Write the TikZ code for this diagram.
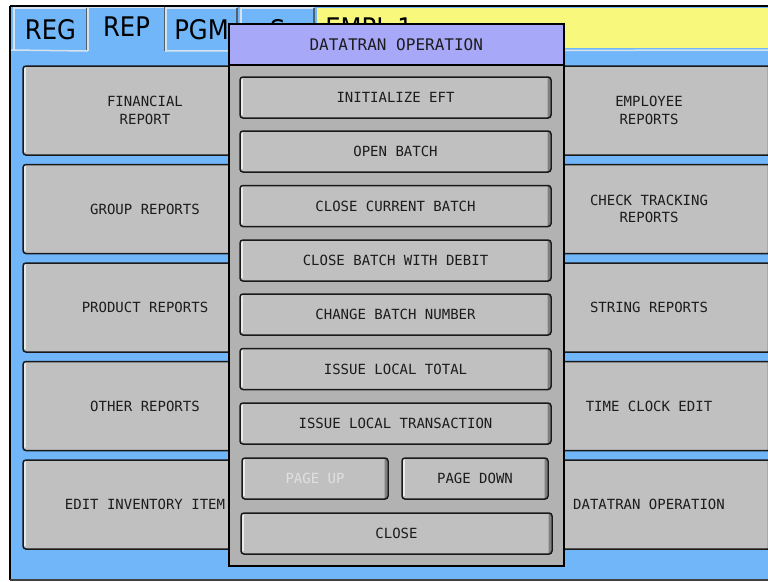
\documentclass[tikz,border=0pt]{standalone}
\usepackage{fontspec}
\usepackage{xcolor}
\usetikzlibrary{calc}
\newfontfamily\tabfont[FakeStretch=0.9]{DejaVu Sans}
\newfontfamily\keyfont{DejaVu Sans Mono}
\newdimen\pxu \pxu=0.75pt
\definecolor{screenblue}{RGB}{112,182,248}
\definecolor{emplyellow}{RGB}{248,248,124}
\definecolor{titlepurple}{RGB}{168,168,248}
\definecolor{dlggray}{RGB}{178,178,178}
\definecolor{keygray}{RGB}{192,192,192}
\definecolor{keydark}{RGB}{128,128,128}
\definecolor{keyink}{RGB}{28,28,28}
\definecolor{tabhi}{RGB}{214,226,238}
\definecolor{tablo}{RGB}{80,96,112}
\tikzset{
  key/.style={draw=black!90, fill=keygray, line width=1.5\pxu, rounded corners=3\pxu,
    inner sep=0pt, outer sep=0pt, anchor=north west, align=center, text=keyink,
    font={\keyfont\fontsize{10.5pt}{13pt}\selectfont},
    path picture={
      \draw[white, line width=1.2\pxu] ([shift={(2,3)}]path picture bounding box.south west) -- ([shift={(2,2)}]path picture bounding box.north west) -- ([shift={(-3,2)}]path picture bounding box.north east);
      \draw[keydark, line width=2.2\pxu] ([shift={(3,-2)}]path picture bounding box.south west) -- ([shift={(-2.2,-2)}]path picture bounding box.south east) -- ([shift={(-2.2,3)}]path picture bounding box.north east);
    }},
  bigkey/.style={key, minimum width=244\pxu, minimum height=89\pxu},
  popkey/.style={key, minimum width=311\pxu, minimum height=41\pxu},
  halfkey/.style={key, minimum width=146\pxu, minimum height=41\pxu},
  tab/.style={fill=screenblue, inner sep=0pt, outer sep=0pt, anchor=north west, minimum height=43\pxu,
    font={\tabfont\fontsize{20.25pt}{24pt}\selectfont}},
  tabedge/.style={tabhi, line width=1.5\pxu},
  tabshade/.style={tablo, line width=1.5\pxu},
}
\begin{document}
\begin{tikzpicture}[x=0.75pt,y=0.75pt,yscale=-1]
    \useasboundingbox (0,0) rectangle (768,582);
    
    % screen background
    \fill[white] (0,0) rectangle (768,582);
    \fill[screenblue] (10,6) rectangle (790,579);
    
    % mode tabs
    \node[tab, minimum width=73\pxu] (reg) at (14,8) {REG};
    \node[tab, minimum width=77\pxu, minimum height=44\pxu, text depth=4\pxu] (rep) at (88,7) {REP};
    \node[tab, minimum width=71\pxu] (pgm) at (166,8) {PGM};
    \node[tab, minimum width=73\pxu] (smode) at (241,8) {S};
    \draw[tabedge] (reg.south west) -- (reg.north west) -- (reg.north east);
    \draw[tabshade] (reg.north east) -- (reg.south east);
    \draw[tabedge] (rep.south west) -- (rep.north west) -- (rep.north east);
    \draw[tabshade] (rep.north east) -- (rep.south east);
    \draw[tabedge] (pgm.south west) -- (pgm.north west) -- (pgm.north east);
    \draw[tabshade] (pgm.north east) -- (pgm.south east);
    \draw[tabedge] (smode.south west) -- (smode.north west) -- (smode.north east);
    \draw[tabshade] (smode.north east) -- (smode.south east);
    
    % clerk bar
    \node[fill=emplyellow, anchor=north west, inner sep=0pt, minimum width=470\pxu, minimum height=40\pxu] (bar) at (317,8) {};
    \node[anchor=west, inner sep=0pt, font={\tabfont\fontsize{20.25pt}{24pt}\selectfont}] (empl) at (325,28) {EMPL 1};
    \draw[tabedge] (11,50) -- (rep.south west);
    \draw[tabedge] (rep.south east) -- (790,50);
    
    % report keys, left column
    \node[bigkey] (fin) at (23,66) {FINANCIAL\\REPORT};
    \node[bigkey] (grp) at (23,164.5) {GROUP REPORTS};
    \node[bigkey] (prod) at (23,263) {PRODUCT REPORTS};
    \node[bigkey] (oth) at (23,361.5) {OTHER REPORTS};
    \node[bigkey] (inv) at (23,460) {EDIT INVENTORY ITEM};
    
    % report keys, right column
    \node[bigkey] (emp) at (527,66) {EMPLOYEE\\REPORTS};
    \node[bigkey] (chk) at (527,164.5) {CHECK TRACKING\\REPORTS};
    \node[bigkey] (strg) at (527,263) {STRING REPORTS};
    \node[bigkey] (clk) at (527,361.5) {TIME CLOCK EDIT};
    \node[bigkey] (dtr) at (527,460) {DATATRAN OPERATION};
    
    % popup window
    \node[draw=black, fill=dlggray, line width=1.5\pxu, anchor=north west, inner sep=0pt, minimum width=335\pxu, minimum height=542\pxu] (dlg) at (228,23) {};
    \node[draw=black, fill=titlepurple, line width=1.5\pxu, anchor=north west, inner sep=0pt, minimum width=335\pxu, minimum height=41\pxu, text=keyink, font={\keyfont\fontsize{12pt}{14pt}\selectfont}] (dlgtitle) at (228,23) {DATATRAN OPERATION};
    
    % popup keys
    \node[popkey] (eft) at (240,77) {INITIALIZE EFT};
    \node[popkey] (obatch) at (240,131) {OPEN BATCH};
    \node[popkey] (ccur) at (240,185.5) {CLOSE CURRENT BATCH};
    \node[popkey] (cdeb) at (240,240) {CLOSE BATCH WITH DEBIT};
    \node[popkey] (cnum) at (240,294) {CHANGE BATCH NUMBER};
    \node[popkey] (ltot) at (240,348.5) {ISSUE LOCAL TOTAL};
    \node[popkey] (ltrn) at (240,403) {ISSUE LOCAL TRANSACTION};
    \node[halfkey, text=white!88!black] (pgup) at (242,458) {PAGE UP};
    \node[halfkey] (pgdn) at (402,458) {PAGE DOWN};
    \node[popkey] (cls) at (241,513) {CLOSE};
    
    % frame
    \draw[line width=2\pxu] (10,6) -- (790,6);
    \draw[line width=2\pxu] (10,6) -- (10,579.5);
    \draw[black!75, line width=2\pxu] (10,579.5) -- (790,579.5);
    
\end{tikzpicture}
\end{document}
